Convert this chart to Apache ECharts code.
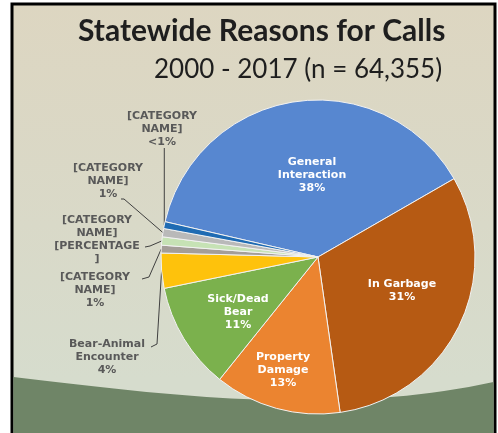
<!DOCTYPE html>
<html><head><meta charset="utf-8">
<script src="https://cdn.jsdelivr.net/npm/echarts@6/dist/echarts.min.js"></script>
<style>html,body{margin:0;padding:0;background:#fff}#c{width:498px;height:433px}</style>
</head><body><div id="c"></div>
<script>
const categories = ['General Interaction','In Garbage','Property Damage','Sick/Dead Bear','Bear-Animal Encounter','[CATEGORY NAME] 1','[CATEGORY NAME] 2','[CATEGORY NAME] 3','[CATEGORY NAME] 4'];
const values = [38, 31, 13, 11, 3.6, 0.8, 0.85, 0.85, 0.7];
const labelTexts = ['General\nInteraction\n38%','In Garbage\n31%','Property\nDamage\n13%','Sick/Dead\nBear\n11%','Bear-Animal\nEncounter\n4%','[CATEGORY\nNAME]\n1%','[CATEGORY\nNAME]\n[PERCENTAGE\n]','[CATEGORY\nNAME]\n1%','[CATEGORY\nNAME]\n<1%'];
const colors = ['#5787d0','#b65a13','#eb8430','#7bb14d','#fec20c','#a49e98','#c6e2b5','#b9b9b9','#1f6bb3'];
const outside = [false,false,false,false,true,true,true,true,true];

// label layout (styling only)
const labelPos = [[312,175],[402,291],[283,370],[238,312],[107,357],[95,290],[97,240],[108,181],[162,129]];
function leader(i, p0){
  switch(i){
    case 4: return [p0,[157,344],[151,347]];
    case 5: return [p0,[149,277],[142,279]];
    case 6: return [p0,[150,246],[145,247]];
    case 7: return [p0,[124,199],[121,199]];
    case 8: return [p0,[p0[0],152],[p0[0],148]];
  }
  return null;
}

// decorative hill outline (background shape)
function hillPoints(){
  const P0=[13.5,377],P1=[150,393],P2=[330,418],P3=[493.5,382];
  const pts=[[13.5,433]];
  for(let k=0;k<=40;k++){
    const t=k/40,u=1-t;
    pts.push([u*u*u*P0[0]+3*u*u*t*P1[0]+3*u*t*t*P2[0]+t*t*t*P3[0],
              u*u*u*P0[1]+3*u*u*t*P1[1]+3*u*t*t*P2[1]+t*t*t*P3[1]]);
  }
  pts.push([493.5,433]);
  return pts;
}

const chart = echarts.init(document.getElementById('c'));
const data = categories.map((n,i)=>({
  name:n, value:values[i],
  itemStyle:{color:colors[i]},
  label: outside[i] ? {position:'outside', color:'#595959'} : {position:'inside', color:'#ffffff'},
  labelLine:{show:outside[i], lineStyle:{color:'#404040', width:1}}
}));
chart.setOption({
  animation:false,
  graphic:[
    {type:'rect', z:-10, silent:true, shape:{x:0,y:0,width:498,height:433}, style:{fill:'#ffffff'}},
    {type:'rect', z:-9, silent:true, shape:{x:12,y:4,width:483,height:440},
      style:{fill:new echarts.graphic.LinearGradient(0,0,0,1,[{offset:0,color:'#ddd6c1'},{offset:0.5,color:'#d9d9c8'},{offset:0.85,color:'#d6dccd'},{offset:1,color:'#d6dccd'}]), stroke:'#000', lineWidth:3}},
    {type:'polygon', z:-8, silent:true, shape:{points:hillPoints()}, style:{fill:'#6f8567'}}
  ],
  title:[
    {text:'Statewide Reasons for Calls', left:73, top:11, textStyle:{fontFamily:'Lato', fontWeight:'bold', fontSize:30, color:'#1e1e1e'}},
    {text:'2000 - 2017 (n = 64,355)', left:149, top:52, textStyle:{fontFamily:'Lato', fontWeight:'normal', fontSize:26, color:'#1e1e1e'}}
  ],
  series:[{
    type:'pie', center:[318,257], radius:[0,157], startAngle:167, clockwise:true,
    itemStyle:{borderColor:'#f2f2f2', borderWidth:1},
    label:{show:true, formatter:p=>labelTexts[p.dataIndex], fontFamily:'DejaVu Sans', fontWeight:'bold', fontSize:11, lineHeight:13, align:'center'},
    labelLayout:function(p){
      const i=p.dataIndex;
      const o={x:labelPos[i][0], y:labelPos[i][1], align:'center', verticalAlign:'middle'};
      if(outside[i] && p.labelLinePoints){ o.labelLinePoints = leader(i, p.labelLinePoints[0]); }
      return o;
    },
    data:data
  }]
});
</script></body></html>
